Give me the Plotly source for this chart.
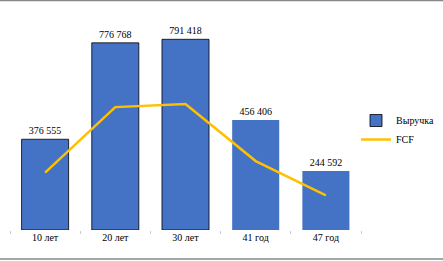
import plotly.graph_objects as go

categories = ["10 лет", "20 лет", "30 лет", "41 год", "47 год"]
revenue = [376555, 776768, 791418, 456406, 244592]
fcf = [238000, 510000, 523000, 286000, 144000]
revenue_labels = [f"{v:,}".replace(",", " ") for v in revenue]

W, H = 443, 261
ml, mr, mt, mb = 10, 82, 10, 31
pw = W - ml - mr
ph = H - mt - mb

SERIF = "Liberation Serif, Times New Roman, serif"

fig = go.Figure()
fig.add_trace(go.Bar(
    x=categories, y=revenue, name="Выручка",
    marker=dict(color="#4472C4", line=dict(color=["#000", "#000", "#000", "#4472C4", "#4472C4"], width=[0.8, 0.8, 0.8, 0, 0])),
    text=revenue_labels, textposition="outside", cliponaxis=False,
    textfont=dict(family=SERIF, size=10, color="#000"),
))
fig.add_trace(go.Scatter(
    x=categories, y=fcf, name="FCF", mode="lines",
    line=dict(color="#FFC000", width=2.5),
))

def px2paper_y(py):
    return (H - mb - py) / ph

def px2paper_x(px):
    return (px - ml) / pw

fig.update_layout(
    width=W, height=H,
    margin=dict(l=ml, r=mr, t=mt, b=mb, autoexpand=False),
    paper_bgcolor="white", plot_bgcolor="white",
    bargap=0.33,
    font=dict(family=SERIF, size=10, color="#000"),
    showlegend=True,
    legend=dict(x=px2paper_x(356), y=px2paper_y(130), xanchor="left", yanchor="middle",
                font=dict(family=SERIF, size=10), tracegroupgap=0, itemwidth=30,
                bgcolor="rgba(0,0,0,0)"),
    xaxis=dict(showgrid=False, showline=False, ticks="outside", tickson="boundaries",
               ticklen=3, tickcolor="#cccccc", tickfont=dict(family=SERIF, size=10)),
    yaxis=dict(range=[0, 913000], visible=False, showgrid=False, zeroline=False),
    shapes=[
        dict(type="line", xref="paper", yref="paper", x0=px2paper_x(0), x1=px2paper_x(W),
             y0=px2paper_y(0.5), y1=px2paper_y(0.5), line=dict(color="#888888", width=1.5)),
        dict(type="line", xref="paper", yref="paper", x0=px2paper_x(0), x1=px2paper_x(W),
             y0=px2paper_y(259), y1=px2paper_y(259), line=dict(color="#888888", width=1.5)),
    ],
)

fig.write_html("out.html")
